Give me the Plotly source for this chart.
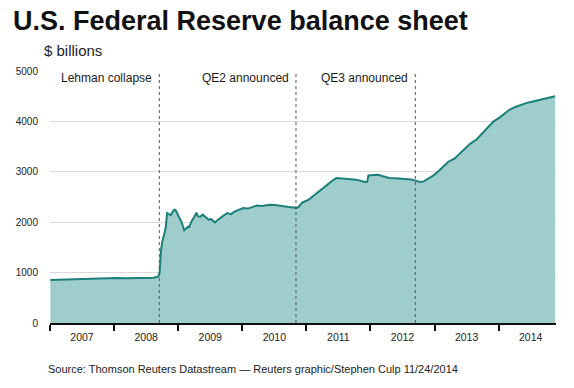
import plotly.graph_objects as go

dates = [
    "2007-01-03", "2007-03-01", "2007-05-01", "2007-07-01", "2007-09-01", "2007-11-01",
    "2007-12-26", "2008-01-16", "2008-03-12", "2008-05-07", "2008-06-25", "2008-08-13",
    "2008-09-10", "2008-09-17", "2008-09-24", "2008-10-01", "2008-10-15", "2008-10-22",
    "2008-10-29", "2008-11-12", "2008-11-19", "2008-12-03", "2008-12-10", "2008-12-17",
    "2008-12-31", "2009-01-14", "2009-01-21", "2009-02-04", "2009-02-11", "2009-02-25",
    "2009-03-04", "2009-03-18", "2009-04-01", "2009-04-15", "2009-04-22", "2009-05-06",
    "2009-05-20", "2009-06-10", "2009-06-24", "2009-07-08", "2009-07-29", "2009-08-12",
    "2009-08-26", "2009-09-16", "2009-10-07", "2009-10-28", "2009-11-18", "2009-12-09",
    "2010-01-06", "2010-02-03", "2010-03-03", "2010-03-24", "2010-04-21", "2010-05-19",
    "2010-06-09", "2010-07-07", "2010-08-04", "2010-08-25", "2010-09-22", "2010-10-20",
    "2010-11-03", "2010-11-17", "2010-12-08", "2010-12-22", "2011-01-19", "2011-02-16",
    "2011-03-09", "2011-04-06", "2011-05-04", "2011-06-01", "2011-06-22", "2011-07-20",
    "2011-08-17", "2011-09-07", "2011-10-12", "2011-11-09", "2011-11-30", "2011-12-14",
    "2011-12-21", "2012-01-18", "2012-02-15", "2012-03-14", "2012-04-18", "2012-05-23",
    "2012-06-27", "2012-07-25", "2012-08-22", "2012-09-19", "2012-10-10", "2012-10-31",
    "2012-11-21", "2012-12-26", "2013-01-23", "2013-02-20", "2013-03-20", "2013-04-24",
    "2013-05-29", "2013-06-26", "2013-07-24", "2013-08-28", "2013-09-25", "2013-10-23",
    "2013-11-20", "2013-12-04", "2014-01-08", "2014-02-05", "2014-03-05", "2014-04-09",
    "2014-05-07", "2014-06-11", "2014-07-09", "2014-08-13", "2014-09-10", "2014-10-08",
    "2014-11-05", "2014-11-19",
]
values = [
    855, 862, 866, 870, 872, 878,
    890, 895, 888, 890, 895, 900,
    925, 1000, 1420, 1600, 1790, 1900,
    2180, 2150, 2140, 2220, 2250, 2240,
    2150, 2050, 1990, 1840, 1860, 1910,
    1900, 2020, 2100, 2190, 2120, 2110,
    2150, 2080, 2050, 2060, 1995, 2040,
    2080, 2130, 2180, 2160, 2210, 2240,
    2280, 2270, 2310, 2330, 2320, 2340,
    2346, 2340, 2320, 2310, 2300, 2292,
    2280, 2300, 2390, 2410, 2459, 2540,
    2600, 2678, 2760, 2830, 2877, 2870,
    2865, 2863, 2840, 2820, 2797, 2800,
    2928, 2935, 2942, 2910, 2877, 2870,
    2863, 2863, 2845, 2820, 2797, 2810,
    2850, 2930, 3010, 3107, 3200, 3260,
    3374, 3470, 3560, 3640, 3740, 3860,
    3950, 4002, 4080, 4160, 4235, 4290,
    4330, 4367, 4390, 4420, 4433, 4470,
    4490, 4499,
]

y_ticks = [0, 1000, 2000, 3000, 4000, 5000]

events = ["2008-09-15", "2010-11-03", "2012-09-13"]
event_labels = ["Lehman collapse", "QE2 announced", "QE3 announced"]

FONT = "Liberation Sans, Arial, sans-serif"
W, H = 574, 388
L, R, T, B = 50, 18, 71, 65


def py(ypx):
    return (H - B - ypx) / (H - T - B)


def px(xpx):
    return (xpx - L) / (W - L - R)


fig = go.Figure()
fig.add_trace(go.Scatter(
    x=dates, y=values, mode="lines",
    line=dict(color="#1b7f7a", width=2),
    fill="tozeroy", fillcolor="#9ecdcb",
    hoverinfo="skip", showlegend=False,
))

shapes = []
annotations = []
for d, lab in zip(events, event_labels):
    shapes.append(dict(type="line", xref="x", yref="paper", x0=d, x1=d, y0=0, y1=1,
                       line=dict(color="#555555", width=1, dash="dot"), layer="above"))
    annotations.append(dict(text=lab, xref="x", yref="paper", x=d, y=py(78),
                            xanchor="right", yanchor="middle", xshift=-5, showarrow=False,
                            font=dict(family=FONT, size=12, color="#1a1a1a")))

annotations.append(dict(text="<b>U.S. Federal Reserve balance sheet</b>", xref="paper", yref="paper",
                        x=px(11), y=py(21), xanchor="left", yanchor="middle", showarrow=False,
                        font=dict(family=FONT, size=27, color="#111111")))
annotations.append(dict(text="$ billions", xref="paper", yref="paper",
                        x=px(42), y=py(50), xanchor="left", yanchor="middle", showarrow=False,
                        font=dict(family=FONT, size=15, color="#222222")))
annotations.append(dict(text="Source: Thomson Reuters Datastream \u2014 Reuters graphic/Stephen Culp 11/24/2014",
                        xref="paper", yref="paper",
                        x=px(46), y=py(369), xanchor="left", yanchor="middle", showarrow=False,
                        font=dict(family=FONT, size=11, color="#222222")))

fig.update_layout(
    width=W, height=H,
    margin=dict(l=L, r=R, t=T, b=B, pad=0),
    paper_bgcolor="white", plot_bgcolor="white",
    shapes=shapes, annotations=annotations,
    showlegend=False,
    xaxis=dict(
        type="date", range=["2007-01-01", "2014-11-24"],
        tick0="2007-01-01", dtick="M12", tickformat="%Y", ticklabelmode="period",
        ticks="outside", ticklen=6, tickwidth=1.5, tickcolor="#111111",
        showgrid=False, zeroline=False, automargin=False,
        showline=True, linecolor="#111111", linewidth=2,
        tickfont=dict(family=FONT, size=10.5, color="#222222"),
        ticklabelstandoff=-3,
    ),
    yaxis=dict(
        range=[0, 5000], tickmode="array", tickvals=y_ticks,
        ticktext=[str(v) for v in y_ticks],
        ticks="", showgrid=True, gridcolor="rgba(0,0,0,0.14)", gridwidth=1,
        zeroline=False, showline=False, layer="above traces", automargin=False,
        tickfont=dict(family=FONT, size=10, color="#222222"),
        ticklabelstandoff=11,
    ),
)

fig.write_html(
    "out.html",
    config={"displayModeBar": False},
    post_script="document.body.style.margin='0';document.body.style.overflow='hidden';",
)
